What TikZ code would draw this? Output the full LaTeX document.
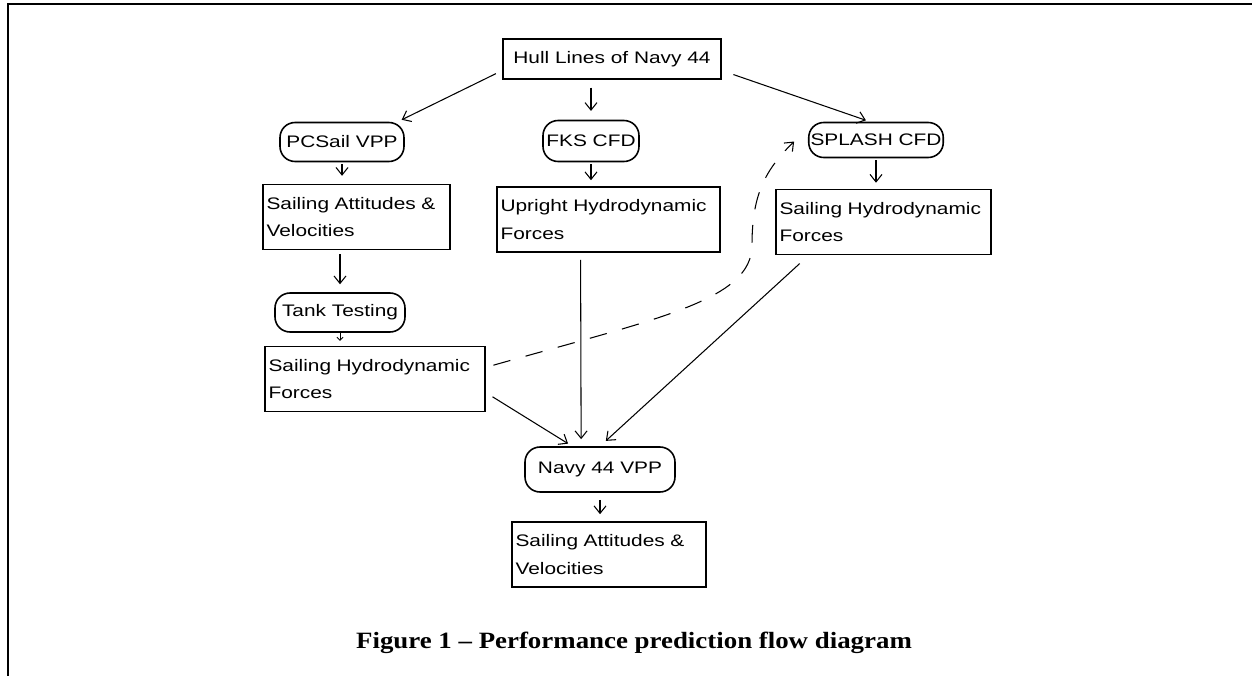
\documentclass[tikz,border=0pt]{standalone}
\usepackage{fontspec}
\setmainfont{Liberation Sans}[FakeStretch=1.25]
\newfontfamily\captionfont{Liberation Serif}[FakeStretch=1.15]
\usetikzlibrary{arrows.meta}
\tikzset{%
  >={Straight Barb[length=1.5mm,width=2.4mm]},
  % Specifications for style of nodes:
         base/.style = {draw=black, line width=0.9pt,
                        font=\fontsize{9.5pt}{15.5pt}\selectfont},
      process/.style = {base, rectangle, align=left, inner xsep=2pt,
                        minimum height=1.3cm},
         tool/.style = {base, rectangle, rounded corners=0.3cm,
                        minimum height=0.78cm, inner sep=1pt, align=center},
    connector/.style = {->, line width=0.6pt},
  feedforward/.style = {connector, dash pattern=on 10pt off 9pt}
}

\begin{document}
\begin{tikzpicture}[x=0.02cm, y=-0.02cm]
  \useasboundingbox (0,0) rectangle (1252,676);
  \draw[line width=1.1pt] (8,676) -- (8,4) -- (1252,4);

  \node (hull)    [process, minimum width=4.36cm, minimum height=0.8cm] at (612,59) {Hull Lines of Navy 44};

  \node (pcsail)  [tool, minimum width=2.48cm] at (342,142)   {PCSail VPP};
  \node (fks)     [tool, minimum width=1.92cm, minimum height=0.82cm] at (591,141) {FKS CFD};
  \node (splash)  [tool, minimum width=2.66cm, minimum height=0.7cm] at (876,140)   {SPLASH CFD};

  \node (att1)    [process, text width=3.6cm]  at (356.5,217) {Sailing Attitudes \&\\Velocities};
  \node (upright) [process, text width=4.32cm] at (608.5,219.5) {Upright Hydrodynamic\\Forces};
  \node (hydroR)  [process, text width=4.16cm] at (883.5,222) {Sailing Hydrodynamic\\Forces};

  \node (tank)    [tool, minimum width=2.6cm]  at (340,312.5) {Tank Testing};
  \node (hydroL)  [process, text width=4.26cm] at (375,379)   {Sailing Hydrodynamic\\Forces};

  \node (navy)    [tool, minimum width=3cm, minimum height=0.9cm] at (600,469.5) {Navy 44 VPP};
  \node (att2)    [process, text width=3.74cm] at (609,554.5) {Sailing Attitudes \&\\Velocities};

  \node (caption) [anchor=base] at (634,648)
    {\captionfont\bfseries\fontsize{13.3pt}{16pt}\selectfont Figure 1 – Performance prediction flow diagram};

  % from the hull lines
  \draw[connector, shorten <=4pt, shorten >=2.5pt] (hull.186) -- (pcsail.20);
  \draw[connector, shorten <=4.5pt, shorten >=5pt] (fks.north |- hull.south) -- (fks.north);
  \draw[connector, shorten <=7pt, shorten >=2.5pt] (hull.-6) -- (splash.108);

  % down each column
  \draw[connector, shorten <=1pt, shorten >=4.5pt] (pcsail.south) -- (pcsail.south |- att1.north);
  \draw[connector, shorten <=1pt, shorten >=3.4pt] (fks.south) -- (fks.south |- upright.north);
  \draw[connector, shorten <=1pt, shorten >=3.4pt] (splash.south) -- (splash.south |- hydroR.north);
  \draw[connector, shorten <=2.3pt, shorten >=4.5pt] (tank.north |- att1.south) -- (tank.north);
  \draw[connector, line width=0.5pt, >={Straight Barb[length=0.6mm,width=1.2mm]}, shorten >=2.8pt] (tank.south) -- (tank.south |- hydroL.north);

  % into the VPP
  \draw[connector, shorten <=4pt, shorten >=4pt] (upright.-130) -- (navy.129);
  \draw[connector, shorten <=4.5pt, shorten >=2.8pt] (hydroL.-7) -- (navy.140);
  \draw[connector, shorten <=7pt, shorten >=4.5pt] (hydroR.-156) -- (navy.north);
  \draw[connector, shorten <=4pt, shorten >=4pt] (navy.south) -- (navy.south |- att2.north);

  \draw[feedforward, shorten <=4.5pt, shorten >=11pt] (hydroL.6)
    .. controls (660,318) and (752,300) .. (752,245)
    .. controls (752,195) and (765,170) .. (splash.170);
\end{tikzpicture}
\end{document}
